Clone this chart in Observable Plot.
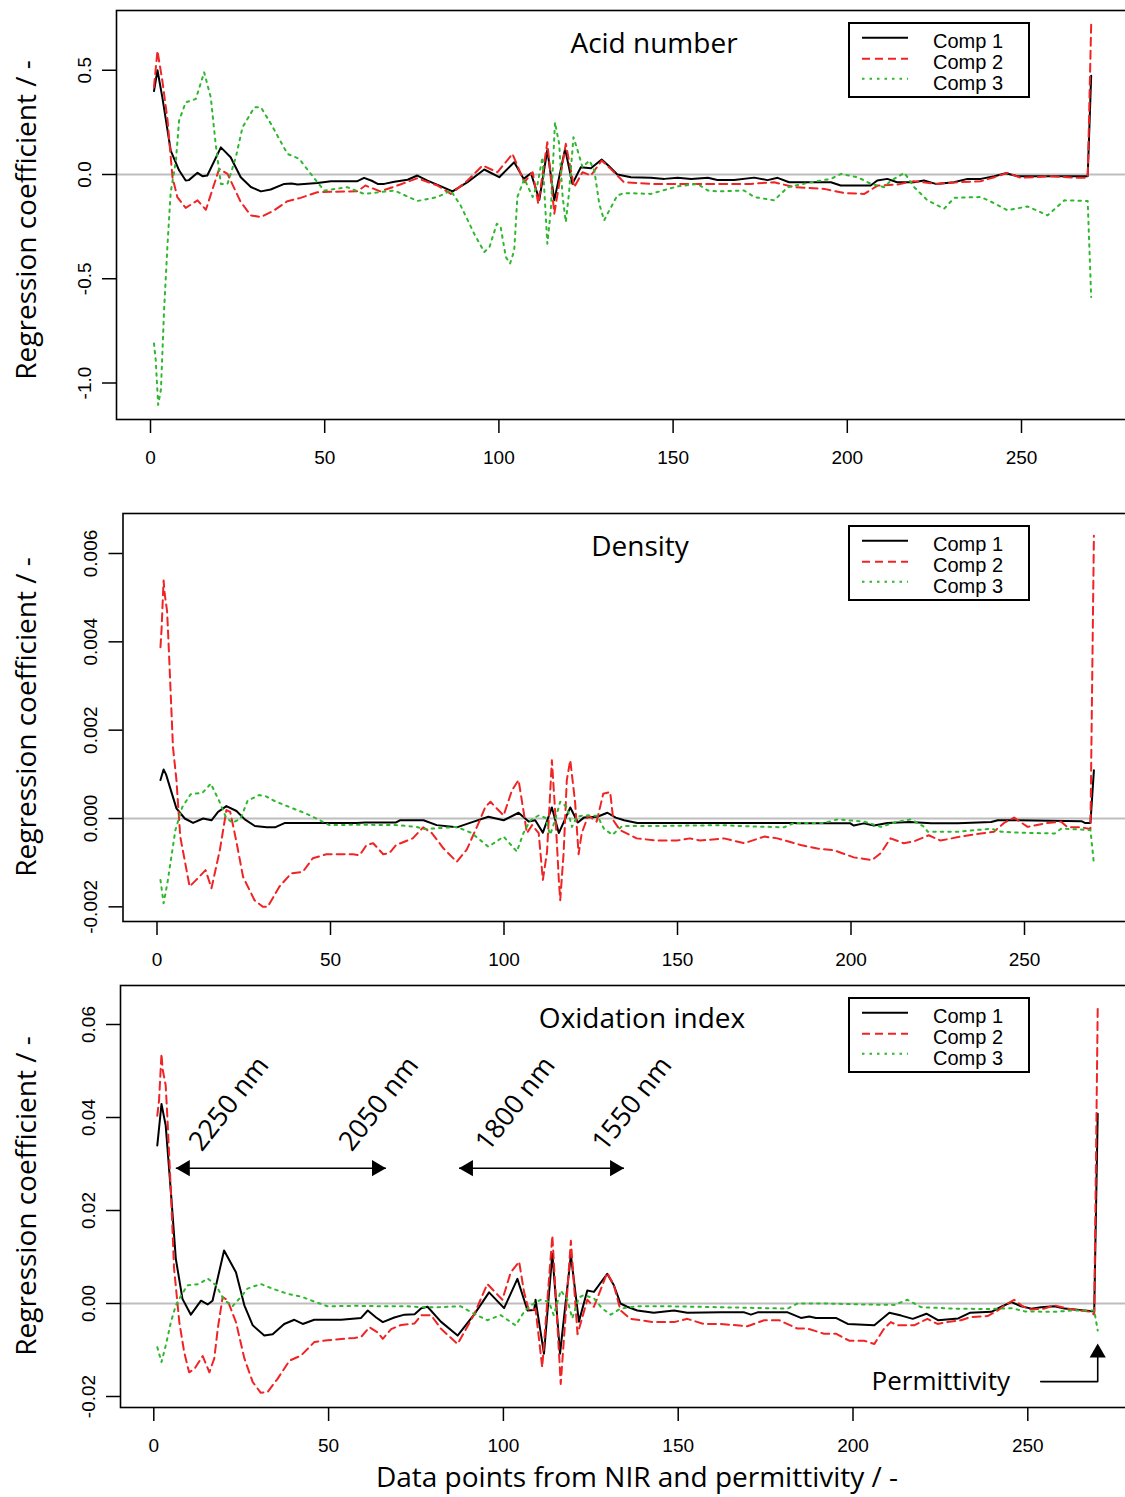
<!DOCTYPE html>
<html><head><meta charset="utf-8">
<script src="https://cdn.jsdelivr.net/npm/d3@7"></script>
<script src="https://cdn.jsdelivr.net/npm/@observablehq/plot@0.6"></script>
<style>
html,body{margin:0;padding:0;background:#fff;overflow:hidden;}
#root{position:relative;width:1125px;height:1497px;overflow:hidden;background:#fff;}
.ov{position:absolute;font-family:"Open Sans",sans-serif;color:#000;white-space:nowrap;line-height:28px;font-size:28px;}
.pl{position:absolute;left:0;}
</style></head><body><div id="root"></div>
<script>
// ---------------- data ----------------
const xTicks = [0, 50, 100, 150, 200, 250];
const compNames = ["Comp 1", "Comp 2", "Comp 3"];

// Acid number
const acidTicks = [-1.0, -0.5, 0.0, 0.5];
const acidComp1 = [[1,0.40],[2,0.50],[3.4,0.37],[5.8,0.115],[8.2,0.02],[10.1,-0.029],[11,-0.027],[13.5,0.008],[14.9,-0.008],[16.3,-0.005],[20.2,0.13],[23,0.083],[25.9,-0.013],[28.8,-0.06],[31.7,-0.081],[34.5,-0.072],[38.4,-0.045],[40.5,-0.043],[42.2,-0.048],[47.9,-0.041],[51.8,-0.032],[59.4,-0.032],[61.3,-0.016],[63.5,-0.03],[65.2,-0.045],[67.1,-0.045],[70,-0.035],[73.8,-0.025],[76.6,-0.005],[79.5,-0.029],[82.4,-0.05],[86.7,-0.081],[91,-0.037],[95.8,0.024],[100.1,-0.013],[104.4,0.059],[107.1,-0.021],[109.2,0.006],[111.6,-0.121],[113.9,0.118],[115.9,-0.124],[119,0.123],[121.1,-0.045],[123.5,0.035],[126.4,0.03],[129.5,0.072],[131.4,0.043],[134,0.0],[137.9,-0.013],[143.6,-0.016],[147.5,-0.021],[151.3,-0.016],[155.2,-0.021],[160,-0.016],[162.7,-0.026],[167.5,-0.026],[173.3,-0.015],[177.1,-0.027],[180,-0.016],[183.3,-0.037],[195.3,-0.037],[198.1,-0.053],[206.7,-0.053],[208.6,-0.029],[211.5,-0.021],[214.3,-0.037],[219.1,-0.037],[222,-0.029],[225.4,-0.045],[230.6,-0.037],[234.5,-0.021],[238.3,-0.021],[242.2,-0.008],[245.5,0.006],[248.9,-0.008],[258.5,-0.008],[265.6,-0.008],[269,-0.008],[270,0.474]];
const acidComp2 = [[1,0.42],[2,0.593],[3.4,0.45],[4.9,0.26],[6.3,-0.013],[7.7,-0.108],[10.1,-0.16],[13.5,-0.124],[15.9,-0.169],[19.7,0.027],[22.1,0.003],[25.9,-0.132],[28.8,-0.196],[31.7,-0.204],[35.5,-0.172],[39.3,-0.128],[43.1,-0.112],[47.9,-0.085],[59.4,-0.08],[61.7,-0.053],[66,-0.081],[71.7,-0.048],[76.6,-0.018],[82.4,-0.053],[86.2,-0.093],[91,-0.029],[95.3,0.043],[99.6,0.011],[103.9,0.099],[107.3,-0.037],[109.7,0.011],[111.3,-0.14],[113.9,0.155],[115.9,-0.188],[119.2,0.147],[121.6,-0.061],[124,0.011],[126.4,-0.005],[129.5,0.067],[132.1,0.027],[135.9,-0.037],[143.6,-0.045],[162.7,-0.045],[172.3,-0.045],[179,-0.037],[184.8,-0.061],[193.4,-0.069],[199.1,-0.089],[204.9,-0.093],[208.7,-0.053],[214.4,-0.048],[219.1,-0.032],[225.8,-0.045],[231.6,-0.037],[238.3,-0.032],[242.2,-0.013],[246,0.008],[249.8,-0.016],[258.4,-0.008],[266.1,-0.016],[269,-0.016],[270,0.72]];
const acidComp3 = [[1,-0.81],[1.5,-0.89],[2.2,-1.105],[3,-1.03],[3.9,-0.65],[4.9,-0.33],[5.8,-0.085],[7.3,0.067],[8.2,0.258],[10.1,0.346],[13,0.362],[15.4,0.49],[17.3,0.37],[18.7,0.147],[20.2,-0.045],[22.1,-0.045],[24.5,0.083],[26.4,0.226],[29.8,0.322],[31.7,0.322],[34.6,0.242],[39.3,0.099],[42.7,0.075],[46,0.003],[49.8,-0.077],[56.5,-0.061],[61.3,-0.093],[70,-0.077],[76.6,-0.127],[82.4,-0.108],[86.2,-0.077],[89,-0.148],[92.9,-0.284],[95.8,-0.372],[97.3,-0.348],[99.4,-0.236],[100.5,-0.252],[102,-0.396],[103.2,-0.427],[104.4,-0.364],[105.3,-0.108],[107.3,-0.021],[109.7,-0.108],[111.1,-0.045],[112.5,0.083],[113.9,-0.332],[114.9,-0.172],[116.1,0.25],[117.3,0.147],[118.3,-0.108],[119.2,-0.228],[120.1,-0.093],[121.4,0.179],[122.6,0.115],[124,0.035],[126,0.067],[127.4,0.019],[128.8,-0.14],[130.2,-0.22],[131.7,-0.172],[134,-0.1],[136,-0.089],[143.6,-0.093],[151.3,-0.057],[157,-0.045],[160,-0.077],[162.7,-0.081],[170.4,-0.077],[173.3,-0.108],[179,-0.124],[182.9,-0.061],[189.6,-0.037],[195.3,-0.021],[198.2,0.003],[203,-0.013],[206.8,-0.045],[210.6,-0.061],[212.5,-0.03],[216.4,0.008],[219.2,-0.061],[223,-0.124],[227.8,-0.164],[230.7,-0.112],[238.3,-0.108],[241.2,-0.13],[246,-0.172],[251.7,-0.153],[257.5,-0.196],[262.3,-0.124],[269,-0.127],[270,-0.587]];

// Density
const densityTicks = [-0.002, 0.000, 0.002, 0.004, 0.006];
const densComp1 = [[1,0.00087],[1.9,0.00111],[2.6,0.001],[5.6,0.00023],[8,0],[10.4,-0.0001],[13.3,0],[15.7,-0.00004],[17.6,0.00015],[20,0.00028],[22.9,0.00017],[25.3,-0.00002],[28.2,-0.00017],[31.6,-0.0002],[34,-0.0002],[36.9,-0.0001],[57.6,-0.0001],[60,-0.00009],[68.9,-0.00009],[70,-0.00004],[76.8,-0.00004],[80.6,-0.00015],[86.4,-0.0002],[90.2,-0.0001],[95.5,0.00004],[99.9,-0.00004],[104.2,0.00013],[107.1,-0.00007],[109,-0.00004],[111.2,-0.00032],[113.8,0.00025],[115.8,-0.00033],[119.1,0.00025],[121.3,-0.00009],[123,0.00002],[126.9,0.00004],[129.8,0.00013],[132.2,0.00002],[134.6,-0.00004],[138.4,-0.0001],[163.4,-0.0001],[183.6,-0.0001],[184.5,-0.00011],[199.8,-0.00011],[200.8,-0.00016],[203.7,-0.00011],[206.6,-0.00016],[210.5,-0.0001],[217,-0.00008],[223.1,-0.00011],[230.8,-0.00011],[240.4,-0.00008],[242.3,-0.00004],[248.1,-0.00004],[266.4,-0.00006],[267.4,-0.0001],[269,-0.0001],[270,0.00109]];
const densComp2 = [[1,0.00388],[1.3,0.00426],[1.9,0.00539],[2.2,0.0051],[2.9,0.0047],[3.3,0.00403],[4.6,0.00162],[5.6,0.00087],[6.7,-0.00041],[9.4,-0.00154],[11.3,-0.00139],[14,-0.00117],[15.7,-0.00158],[18.1,-0.00072],[20,0.00019],[21.1,0.00015],[22.8,-0.00049],[24.8,-0.00132],[28.1,-0.00185],[30.5,-0.002],[31.9,-0.002],[35.3,-0.00154],[38.7,-0.00124],[42,-0.00121],[44.9,-0.0009],[48.8,-0.00081],[56.5,-0.00081],[58.4,-0.00083],[60.4,-0.0006],[62.3,-0.00056],[65.2,-0.00081],[67,-0.00078],[68.9,-0.0006],[73.7,-0.00045],[76.7,-0.0002],[79.2,-0.00033],[82.6,-0.00068],[86.4,-0.00098],[89.3,-0.0007],[92.7,-0.0001],[94.6,0.00026],[96.1,0.00038],[98,0.00022],[99.9,0.00007],[102.3,0.00064],[104.2,0.00087],[105.5,0.00023],[106.6,-0.00033],[108.1,-0.00015],[110,-0.00033],[111.2,-0.00139],[112.4,-0.00076],[113.8,0.00132],[114.8,0.00009],[115.8,-0.00139],[116.2,-0.00185],[117.2,-0.00076],[118.1,0.00087],[119.1,0.00132],[120.5,0.00036],[121.5,-0.00081],[122.4,-0.00033],[124.3,0.00007],[126.7,-0.00007],[128.6,0.00056],[130.6,0.0006],[131.5,-0.00004],[133.4,-0.00026],[138.2,-0.00045],[144,-0.0005],[149.8,-0.0005],[153.6,-0.00045],[156.5,-0.0005],[163.4,-0.00045],[169.2,-0.00056],[175,-0.00041],[178.8,-0.00045],[185.5,-0.0006],[190.3,-0.00068],[195.1,-0.00072],[200.8,-0.00088],[206.1,-0.00094],[208.5,-0.00079],[211.4,-0.00045],[215.2,-0.00056],[218.1,-0.00052],[222.4,-0.00038],[225.8,-0.0005],[231.6,-0.00041],[237.4,-0.00034],[241.2,-0.0003],[244.1,-0.0001],[247,0.00002],[250.9,-0.00019],[256.6,-0.0001],[260.5,-0.00007],[262.4,-0.0002],[266.3,-0.0002],[269,-0.00024],[270,0.0064]];
const densComp3 = [[1,-0.00139],[1.9,-0.00192],[3,-0.00146],[4,-0.00094],[5.3,-0.00026],[7.3,0.00026],[9.7,0.00055],[13.1,0.00058],[15.5,0.00079],[17.9,0.0004],[19.8,0.00004],[21.7,-0.0001],[24.1,0],[26.1,0.0004],[29.4,0.00053],[31.4,0.0005],[34.3,0.00038],[39.1,0.00023],[43,0.00011],[45.9,0],[49.7,-0.00015],[57.4,-0.00014],[69,-0.00015],[74.8,-0.00019],[77,-0.00024],[80.6,-0.00022],[86.4,-0.00019],[90.7,-0.00033],[95.5,-0.00064],[99.9,-0.00041],[103.7,-0.00075],[105.6,-0.00033],[107.6,-0.00004],[110,0.00007],[111.9,0.00002],[113.3,-0.00037],[114.8,-0.00002],[116.2,0.00038],[118.1,0.00026],[119.6,-0.00019],[121,0.00004],[123,0.00007],[126.9,0.00006],[128.8,-0.00023],[131.2,-0.00037],[134.1,-0.00017],[144,-0.00017],[163.4,-0.00015],[168.2,-0.00017],[180.7,-0.0002],[183.6,-0.0001],[192.3,-0.0001],[196.1,-0.00002],[203.8,-0.00007],[208.6,-0.00019],[213.4,-0.00007],[217.3,-0.00002],[221.1,-0.00019],[222.1,-0.0003],[230.8,-0.0003],[240.4,-0.00023],[243.3,-0.0003],[248.1,-0.00032],[258.7,-0.00034],[260.6,-0.00023],[269,-0.00026],[270,-0.00102]];

// Oxidation index
const oxTicks = [-0.02, 0.00, 0.02, 0.04, 0.06];
const oxComp1 = [[1,0.034],[2.2,0.0429],[3.4,0.0383],[4.9,0.0239],[6.3,0.0096],[8.2,0.001],[10.6,-0.0024],[13.5,0.0006],[15.4,-0.0002],[16.8,0.0006],[20.1,0.0114],[23.5,0.0067],[25.9,-0.0004],[28.3,-0.0047],[31.6,-0.0069],[34,-0.0066],[37.3,-0.0044],[40.2,-0.0035],[42.6,-0.0044],[45.9,-0.0035],[53.6,-0.0035],[59.3,-0.0031],[61.2,-0.0015],[63.6,-0.003],[65.5,-0.004],[68.8,-0.003],[71.7,-0.0024],[74.6,-0.0023],[76.5,-0.001],[78.3,-0.0007],[82.1,-0.0039],[86.9,-0.0069],[91.6,-0.0024],[95.9,0.0024],[100.2,-0.001],[104,0.0053],[106.9,-0.0015],[108.8,-0.0014],[109.2,0.0008],[111.6,-0.0108],[114,0.0107],[116.2,-0.0108],[119.3,0.0104],[121.6,-0.0039],[124,0.0028],[125.9,0.0025],[129.7,0.0064],[131.6,0.0039],[133.5,0],[135.4,-0.0007],[138.3,-0.0015],[143,-0.002],[148.8,-0.0015],[152.6,-0.002],[162.2,-0.0019],[168.9,-0.0019],[170.8,-0.0024],[172.7,-0.0019],[181.3,-0.0019],[185.1,-0.0031],[187.5,-0.0028],[189.4,-0.0031],[195.1,-0.0031],[198.5,-0.0044],[206.1,-0.0047],[210.4,-0.002],[213.8,-0.0026],[217.1,-0.0033],[221,-0.0022],[224.3,-0.0036],[230.1,-0.0032],[233.4,-0.002],[239.6,-0.0018],[242.4,-0.0007],[245.3,0.0003],[248.1,-0.0006],[251,-0.0011],[253.8,-0.0008],[257.6,-0.0006],[260.5,-0.0011],[266.2,-0.0015],[269,-0.0017],[270,0.0408]];
const oxComp2 = [[1,0.0404],[1.5,0.0437],[2.2,0.0537],[2.5,0.0505],[3.4,0.0469],[3.9,0.0398],[4.9,0.0239],[5.8,0.0075],[7.3,-0.004],[8.7,-0.0105],[10.1,-0.0148],[11.6,-0.0141],[14,-0.0113],[15.9,-0.0148],[17.3,-0.0118],[18.3,-0.0054],[19.7,0.0014],[21.1,0.0007],[23.5,-0.004],[25.9,-0.0118],[28.3,-0.0169],[30.6,-0.0192],[32.6,-0.019],[35.4,-0.0162],[38.8,-0.0123],[42.1,-0.0112],[45.9,-0.0083],[49.7,-0.0079],[57.4,-0.0074],[59.3,-0.0072],[61.7,-0.0051],[64,-0.0062],[65.5,-0.0076],[67.9,-0.0055],[70.8,-0.0046],[74.6,-0.0043],[76.5,-0.0025],[79.3,-0.0025],[82.1,-0.0054],[86.9,-0.0087],[91.6,-0.0024],[95.4,0.0042],[99.7,0.0008],[102.1,0.0067],[104.5,0.009],[105.9,0.0025],[107.3,-0.0015],[109.2,-0.0012],[111.1,-0.0137],[114,0.0146],[116.4,-0.0173],[119.3,0.0135],[121.2,-0.0066],[124,0.0008],[125.9,-0.0007],[129.7,0.0066],[131.6,0.0039],[133.5,-0.0015],[136.3,-0.0033],[143,-0.004],[148.8,-0.004],[152.6,-0.0033],[157.3,-0.0044],[162.2,-0.0044],[169.8,-0.0049],[174.6,-0.0036],[178.9,-0.0036],[184.1,-0.0054],[187,-0.0054],[191.7,-0.0065],[195.1,-0.0065],[198.9,-0.008],[203.2,-0.008],[206.1,-0.0087],[208.9,-0.0054],[210.8,-0.004],[212.7,-0.0047],[217.5,-0.0047],[221.3,-0.0033],[224.2,-0.0044],[227,-0.004],[230.9,-0.0036],[233.7,-0.0029],[238.5,-0.0027],[241.4,-0.0015],[244.2,0],[246.1,0.0008],[248.5,-0.0006],[250.9,-0.0013],[254.7,-0.0011],[257.6,-0.0004],[261.4,-0.0011],[265.2,-0.0015],[268,-0.0018],[269,-0.0024],[270,0.0637]];
const oxComp3 = [[1,-0.0094],[2.2,-0.0126],[3.4,-0.0091],[4.9,-0.004],[6.3,-0.0004],[7.8,0.0017],[9.6,0.0039],[13,0.0042],[15.4,0.0054],[17.8,0.0039],[20.1,0.0008],[22.5,-0.0006],[24.9,0.0014],[26.8,0.0032],[30.6,0.0042],[33.9,0.0032],[38.2,0.0021],[42.5,0.0014],[45.9,0.0004],[49.7,-0.0006],[57.4,-0.0005],[66.9,-0.0006],[72.7,-0.0006],[76.5,-0.0008],[81.2,-0.0008],[87.8,-0.0006],[91.6,-0.0022],[95.4,-0.0036],[99.2,-0.0025],[103.5,-0.0047],[105.9,-0.0018],[107.8,-0.0004],[110.6,0.0008],[113,0.0004],[114.4,-0.0025],[116.4,0.0028],[118.3,0.0008],[119.7,-0.0032],[121.6,0.0013],[123,0.0018],[125.9,0.0011],[128.3,-0.0011],[130.7,-0.0024],[133.5,-0.0011],[138.3,-0.0006],[147.8,-0.0006],[162.2,-0.0008],[181.3,-0.0011],[184.1,0],[192.7,0],[202.3,-0.0002],[211.8,-0.0003],[215.6,0.0008],[219.5,-0.0008],[229,-0.0011],[238.5,-0.0012],[245.3,-0.001],[249.2,-0.0017],[257.8,-0.0018],[262.5,-0.0015],[269,-0.0015],[270,-0.0058]];

// Oxidation-index annotations (data coordinates)
const rangeArrows = [[6.3, 66.4], [87.3, 134.5]];
const rangeArrowY = 0.0291;
const waveLabels = ["2250 nm", "2050 nm", "1800 nm", "1550 nm"];
const waveLabelX = [11.8, 54.7, 93.7, 127.1];
const waveLabelY = 0.0336;
const permPath = [[253.7, -0.0168], [270, -0.0168], [270, -0.0112]];
const permTip = [270, -0.0086];
const permLabel = {text: "Permittivity", x: 225.1, y: -0.0168};

// ---------------- styling ----------------
const compColors = ["#000000", "#f02424", "#2fb82f"];
const compDash = [undefined, "8,5", "2.5,5"];
const tickFont = "'Liberation Sans', Arial, sans-serif";
const textFont = "'Open Sans', sans-serif";
const W = 1140;
const root = document.getElementById("root");

function makePanel(cfg) {
  const xAt = px => (px - cfg.x0px) / cfg.xUnit;
  const yAt = py => (cfg.y0py - py) / cfg.yUnit;
  const marks = [
    Plot.ruleY([0], {stroke: "#bebebe", strokeWidth: 2}),
    ...cfg.series.map((s, i) => Plot.line(s, {x: d => d[0], y: d => d[1], stroke: compColors[i], strokeWidth: 2, strokeDasharray: compDash[i]})),
    ...(cfg.extra || []),
    Plot.frame({stroke: "#000", strokeWidth: 1.6}),
    Plot.axisX({ticks: xTicks, tickFormat: d => String(d), tickSize: 14, tickPadding: 17, fontSize: 19, fontFamily: tickFont, strokeWidth: 1.5, label: null}),
    Plot.axisY({ticks: cfg.yTicks, tickFormat: d => d.toFixed(cfg.digits), tickRotate: -90, tickSize: 14, tickPadding: 12, fontSize: 19, fontFamily: tickFont, strokeWidth: 1.5, label: null})
  ];
  const svg = Plot.plot({
    width: W, height: cfg.height,
    marginLeft: cfg.left, marginRight: W - cfg.right,
    marginTop: cfg.frameTop - cfg.top, marginBottom: cfg.top + cfg.height - cfg.frameBottom,
    x: {domain: [xAt(cfg.left), xAt(cfg.right)]},
    y: {domain: [yAt(cfg.frameBottom), yAt(cfg.frameTop)]},
    style: {background: "transparent", maxWidth: "none", overflow: "visible", fontFamily: tickFont, color: "#000"},
    marks
  });
  const wrap = document.createElement("div");
  wrap.className = "pl";
  wrap.style.top = cfg.top + "px";
  wrap.appendChild(svg);
  root.appendChild(wrap);

  // title
  const t = document.createElement("div");
  t.className = "ov";
  t.textContent = cfg.title;
  t.style.left = cfg.titleX + "px";
  t.style.top = (cfg.titleBase - 25) + "px";
  t.style.transform = "translateX(-50%)";
  root.appendChild(t);

  // y title
  const yt = document.createElement("div");
  yt.className = "ov";
  yt.textContent = "Regression coefficient / -";
  yt.style.left = "25px";
  yt.style.top = cfg.yTitleY + "px";
  yt.style.transform = "translate(-50%,-50%) rotate(-90deg)";
  root.appendChild(yt);

  // legend
  const lg = d3.create("svg").attr("width", 182).attr("height", 76)
    .style("position", "absolute").style("left", "848px").style("top", (cfg.frameTop + 11.5) + "px");
  lg.append("rect").attr("x", 1).attr("y", 1).attr("width", 180).attr("height", 74)
    .attr("fill", "white").attr("stroke", "black").attr("stroke-width", 2);
  compNames.forEach((n, i) => {
    const ly = [15.7, 36.7, 56.7][i];
    lg.append("line").attr("x1", 14).attr("x2", 60).attr("y1", ly).attr("y2", ly)
      .attr("stroke", compColors[i]).attr("stroke-width", 2).attr("stroke-dasharray", compDash[i] || null);
    lg.append("text").attr("x", 85).attr("y", [25.7, 47.3, 68][i]).text(n)
      .attr("font-family", tickFont).attr("font-size", 20).attr("fill", "#000");
  });
  root.appendChild(lg.node());
}

makePanel({
  title: "Acid number", titleX: 654, titleBase: 53, yTitleY: 220,
  series: [acidComp1, acidComp2, acidComp3], yTicks: acidTicks, digits: 1,
  top: 0, height: 490, frameTop: 10, frameBottom: 419, left: 116, right: 1128,
  x0px: 150, xUnit: 3.484, y0py: 174, yUnit: 208.5
});
makePanel({
  title: "Density", titleX: 640, titleBase: 556, yTitleY: 717,
  series: [densComp1, densComp2, densComp3], yTicks: densityTicks, digits: 3,
  top: 490, height: 490, frameTop: 513, frameBottom: 921, left: 122.5, right: 1129,
  x0px: 156.5, xUnit: 3.47, y0py: 818, yUnit: 44167
});

const headR = 6;
const headOff = 9.3;
const oxExtra = [
  Plot.link(rangeArrows, {x1: d => d[0], x2: d => d[1], y1: rangeArrowY, y2: rangeArrowY, stroke: "#000", strokeWidth: 1.6}),
  Plot.dot(rangeArrows, {x: d => d[0], y: rangeArrowY, symbol: "triangle", r: headR, fill: "#000", stroke: null, rotate: -90, dx: headOff}),
  Plot.dot(rangeArrows, {x: d => d[1], y: rangeArrowY, symbol: "triangle", r: headR, fill: "#000", stroke: null, rotate: 90, dx: -headOff}),
  Plot.text(waveLabels, {x: (d, i) => waveLabelX[i], y: waveLabelY, text: d => d, rotate: -52, textAnchor: "start", fontSize: 27, fontFamily: textFont, fill: "#000"}),
  Plot.line(permPath, {x: d => d[0], y: d => d[1], stroke: "#000", strokeWidth: 1.6}),
  Plot.dot([permTip], {x: d => d[0], y: d => d[1], symbol: "triangle", r: headR, fill: "#000", stroke: null, dy: headOff}),
  Plot.text([permLabel], {x: "x", y: "y", text: "text", fontSize: 26, fontFamily: textFont, fill: "#000"})
];
makePanel({
  title: "Oxidation index", titleX: 642, titleBase: 1028, yTitleY: 1196,
  series: [oxComp1, oxComp2, oxComp3], yTicks: oxTicks, digits: 2,
  top: 980, height: 517, frameTop: 985, frameBottom: 1407, left: 120, right: 1134,
  x0px: 153.3, xUnit: 3.496, y0py: 1303, yUnit: 4650, extra: oxExtra
});

// x axis title
const xt = document.createElement("div");
xt.className = "ov";
xt.textContent = "Data points from NIR and permittivity / -";
xt.style.left = "637px";
xt.style.top = "1462px";
xt.style.transform = "translateX(-50%)";
root.appendChild(xt);
</script></body></html>
